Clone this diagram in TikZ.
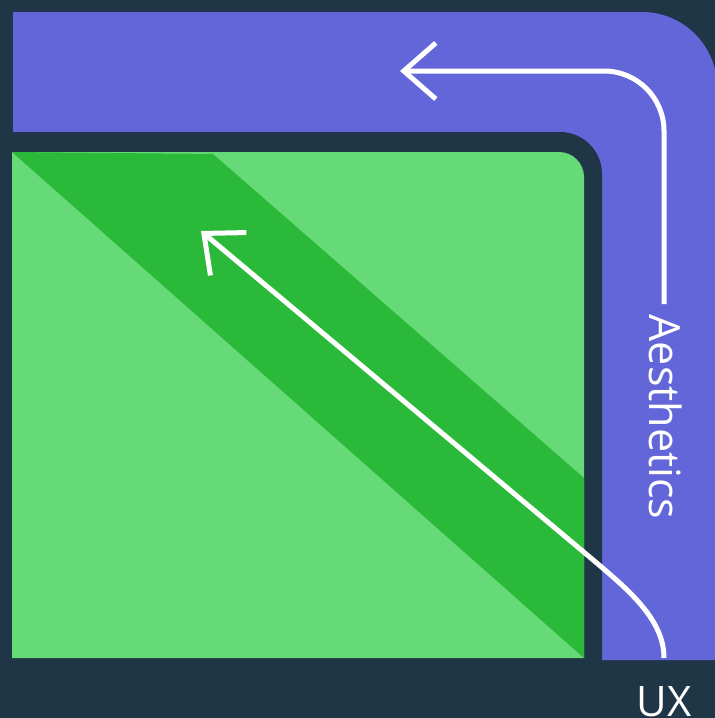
\documentclass[tikz,border=0pt]{standalone}
\usepackage{fontspec}
\setmainfont{Open Sans}
\usepackage{tikz}
\usetikzlibrary{arrows.meta}
\tikzset{>={Straight Barb[length=16pt, width=28pt]}}
\definecolor{bgnavy}{HTML}{1F3646}
\definecolor{aesviolet}{HTML}{6366D9}
\definecolor{uxgreen}{HTML}{65DA77}
\definecolor{bandgreen}{HTML}{2AB939}
% box with only its top right corner rounded
\newcommand{\trbox}[6]{
	\fill[#1](#2, #5)--(#2, #3)[rounded corners=#6]--(#4, #3)[sharp corners]--(#4, #5)--cycle
}

\begin{document}
\begin{tikzpicture}[x=.5pt, y=-.5pt, line width=2.5pt]
    \useasboundingbox(0, 0)rectangle(715, 718);
    \clip(0, 0)rectangle(715, 718);
    \fill[bgnavy](0, 0)rectangle(715, 718);
    \trbox{aesviolet}{13}{12}{717}{660}{37.5pt};
    \trbox{bgnavy}{-2}{132}{602}{720}{21pt};
    \trbox{uxgreen}{12}{152}{584}{658}{12.5pt};
    \fill[bandgreen](12, 152)--(213, 154)--(584, 478)--(584, 658)--cycle;
    \node[white, font=\fontsize{21.5}{26}\selectfont, rotate=-90, inner sep=4pt](aes) at (666, 417) {Aesthetics};
    \node[white, font=\fontsize{21}{26}\selectfont](ux) at (664, 702) {UX};
    \coordinate (uxtop) at (664, 658);
    \coordinate (bend) at (592, 559);
    \coordinate (ghead) at (201, 231);
    \coordinate (ahead) at (400, 71);
    \draw[white, ->, rounded corners=30pt](aes.west -| uxtop)|-(ahead);
    \draw[white, ->](uxtop) .. controls +(0, -38) and +(38, 32) .. (bend)--(ghead);
\end{tikzpicture}
\end{document}
